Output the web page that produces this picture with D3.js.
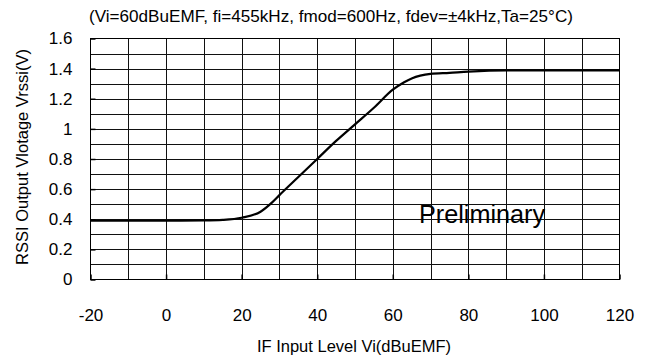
<!DOCTYPE html>
<html>
<head>
<meta charset="utf-8">
<script src="https://cdn.jsdelivr.net/npm/d3@7/dist/d3.min.js"></script>
<style>
  html, body { margin: 0; padding: 0; background: #fff; }
  svg { display: block; font-family: "Liberation Sans", Arial, sans-serif; }
</style>
</head>
<body>
<svg id="chart" width="653" height="360"></svg>
<script>
// IF input level (dBuEMF) and RSSI output voltage (V)
const inputLevel = [-20, -10, 0, 10, 15, 20, 25, 28, 30, 35, 40, 45, 50, 55, 60, 63, 65, 70, 75, 80, 90, 100, 110, 120];
const rssiVoltage = [0.39, 0.39, 0.39, 0.392, 0.396, 0.41, 0.45, 0.51, 0.56, 0.68, 0.80, 0.92, 1.03, 1.14, 1.26, 1.31, 1.335, 1.365, 1.372, 1.38, 1.388, 1.388, 1.388, 1.388];
const xTicks = [-20, 0, 20, 40, 60, 80, 100, 120];
const yTicks = [0, 0.2, 0.4, 0.6, 0.8, 1, 1.2, 1.4, 1.6];
const conditionText = "(Vi=60dBuEMF, fi=455kHz, fmod=600Hz, fdev=\u00B14kHz,Ta=25\u00B0C)";
const xTitle = "IF Input Level Vi(dBuEMF)";
const yTitle = "RSSI Output Vlotage Vrssi(V)";
const stampText = "Preliminary";

const svg = d3.select("#chart");
const plotL = 90.5, plotR = 619.5, plotT = 38.5, plotB = 279.5;

const x = d3.scaleLinear().domain([-20, 120]).range([plotL, plotR]);
const y = d3.scaleLinear().domain([0, 1.6]).range([plotB, plotT]);

// grid: every 10 dB horizontally, every 0.1 V vertically
const grid = svg.append("g").attr("stroke", "#111").attr("stroke-width", 1);
grid.selectAll("line.v").data(d3.range(-10, 120, 10)).join("line")
  .attr("class", "v")
  .attr("x1", d => Math.round(x(d)) + 0.5).attr("x2", d => Math.round(x(d)) + 0.5)
  .attr("y1", plotT).attr("y2", plotB);
grid.selectAll("line.h").data(d3.range(1, 16).map(i => i / 10)).join("line")
  .attr("class", "h")
  .attr("x1", plotL).attr("x2", plotR)
  .attr("y1", d => Math.round(y(d)) + 0.5).attr("y2", d => Math.round(y(d)) + 0.5);

// plot frame
svg.append("rect")
  .attr("x", plotL).attr("y", plotT)
  .attr("width", plotR - plotL).attr("height", plotB - plotT)
  .attr("fill", "none").attr("stroke", "#000").attr("stroke-width", 1);

// axes (labels only, inward ticks)
const fmtY = d => (d === 0 ? "0" : d === 1 ? "1" : d3.format(".1f")(d));
const yAxis = svg.append("g")
  .attr("transform", `translate(${plotL},0)`)
  .call(d3.axisLeft(y).tickValues(yTicks).tickFormat(fmtY).tickSize(-5).tickPadding(18));
const xAxis = svg.append("g")
  .attr("transform", `translate(0,${plotB})`)
  .call(d3.axisBottom(x).tickValues(xTicks).tickFormat(d => String(d)).tickSize(-5).tickPadding(29));
[yAxis, xAxis].forEach(a => {
  a.select(".domain").remove();
  a.selectAll(".tick line").attr("stroke", "#000").attr("stroke-width", 1.5);
  a.selectAll(".tick text")
    .attr("fill", "#000")
    .style("font-family", "'Liberation Sans', Arial, sans-serif")
    .style("font-size", "17px");
});

// RSSI curve
const line = d3.line().x((d, i) => x(inputLevel[i])).y(d => y(d)).curve(d3.curveMonotoneX);
svg.append("path")
  .datum(rssiVoltage)
  .attr("d", line)
  .attr("fill", "none")
  .attr("stroke", "#000")
  .attr("stroke-width", 2.2)
  .attr("stroke-linejoin", "round");

// measurement conditions
svg.append("text")
  .attr("x", 89).attr("y", 22)
  .attr("textLength", 484).attr("lengthAdjust", "spacingAndGlyphs")
  .style("font-size", "17px").attr("fill", "#000")
  .text(conditionText);

// axis titles
svg.append("text")
  .attr("x", (plotL + plotR) / 2 - 1).attr("y", 352)
  .attr("text-anchor", "middle")
  .style("font-size", "16.5px").attr("fill", "#000")
  .text(xTitle);
svg.append("text")
  .attr("transform", `translate(28,${(plotT + plotB) / 2 - 2}) rotate(-90)`)
  .attr("text-anchor", "middle")
  .style("font-size", "16.5px").attr("fill", "#000")
  .text(yTitle);

// status stamp
svg.append("text")
  .attr("x", 419).attr("y", 223)
  .attr("textLength", 126).attr("lengthAdjust", "spacingAndGlyphs")
  .style("font-size", "25px").attr("fill", "#000")
  .text(stampText);
</script>
</body>
</html>
